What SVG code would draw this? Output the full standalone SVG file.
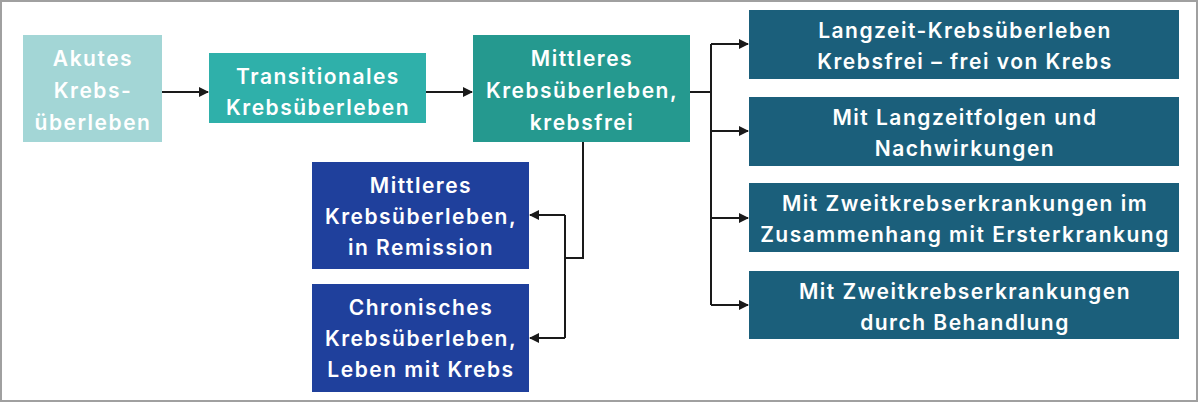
<svg xmlns="http://www.w3.org/2000/svg" width="1200" height="404" viewBox="0 0 1200 404">
<style>
text{font-family:Inter,"Liberation Sans",Arial,sans-serif;font-size:21px;font-weight:600;letter-spacing:1.5px;fill:#ffffff;text-anchor:middle;dominant-baseline:central}
.c{fill:none;stroke:#1a1a1a;stroke-width:2}
</style>
<defs>
<marker id="ah" markerWidth="10" markerHeight="10" refX="9" refY="5" orient="auto" markerUnits="userSpaceOnUse">
<path d="M0,0 L10,5 L0,10 Z" fill="#1a1a1a"/>
</marker>
</defs>
<rect x="0" y="0" width="1200" height="404" fill="#ffffff"/>
<rect x="1" y="1" width="1196" height="400" fill="none" stroke="#a0a0a0" stroke-width="2"/>
<g id="connectors">
<path class="c" d="M162,92 H208" marker-end="url(#ah)"/>
<path class="c" d="M426,92 H472" marker-end="url(#ah)"/>
<path class="c" d="M690,92 H711"/>
<path class="c" d="M711,44 V305"/>
<path class="c" d="M711,44 H748" marker-end="url(#ah)"/>
<path class="c" d="M711,131 H748" marker-end="url(#ah)"/>
<path class="c" d="M711,218 H748" marker-end="url(#ah)"/>
<path class="c" d="M711,305 H748" marker-end="url(#ah)"/>
<path class="c" d="M583,142 V258 H565"/>
<path class="c" d="M565,215 V338"/>
<path class="c" d="M565,215 H530" marker-end="url(#ah)"/>
<path class="c" d="M565,338 H530" marker-end="url(#ah)"/>
</g>
<g id="akut">
<rect x="23" y="35" width="139" height="107" fill="#a3d6d6"/>
<text x="93" y="58">Akutes</text>
<text x="93" y="90">Krebs-</text>
<text x="93" y="122">überleben</text>
</g>
<g id="transitional">
<rect x="209" y="53" width="217" height="70" fill="#2fb0aa"/>
<text x="318" y="76">Transitionales</text>
<text x="318" y="107">Krebsüberleben</text>
</g>
<g id="mittel-frei">
<rect x="473" y="35" width="217" height="107" fill="#25998f"/>
<text x="582" y="58">Mittleres</text>
<text x="582" y="90">Krebsüberleben,</text>
<text x="582" y="122">krebsfrei</text>
</g>
<g id="mittel-remission">
<rect x="312" y="162" width="217" height="107" fill="#1f409c"/>
<text x="421" y="185">Mittleres</text>
<text x="421" y="216">Krebsüberleben,</text>
<text x="421" y="247">in Remission</text>
</g>
<g id="chronisch">
<rect x="312" y="284" width="217" height="108" fill="#1f409c"/>
<text x="421" y="307">Chronisches</text>
<text x="421" y="338">Krebsüberleben,</text>
<text x="421" y="369">Leben mit Krebs</text>
</g>
<g id="langzeit">
<rect x="749" y="10" width="430" height="69" fill="#1b5f7b"/>
<text x="965" y="30">Langzeit-Krebsüberleben</text>
<text x="965" y="61">Krebsfrei – frei von Krebs</text>
</g>
<g id="folgen">
<rect x="749" y="97" width="430" height="69" fill="#1b5f7b"/>
<text x="965" y="117">Mit Langzeitfolgen und</text>
<text x="965" y="148">Nachwirkungen</text>
</g>
<g id="zweit-erst">
<rect x="749" y="183" width="430" height="69" fill="#1b5f7b"/>
<text x="965" y="203">Mit Zweitkrebserkrankungen im</text>
<text x="965" y="234">Zusammenhang mit Ersterkrankung</text>
</g>
<g id="zweit-behandlung">
<rect x="749" y="271" width="430" height="68" fill="#1b5f7b"/>
<text x="965" y="291">Mit Zweitkrebserkrankungen</text>
<text x="965" y="322">durch Behandlung</text>
</g>
</svg>
